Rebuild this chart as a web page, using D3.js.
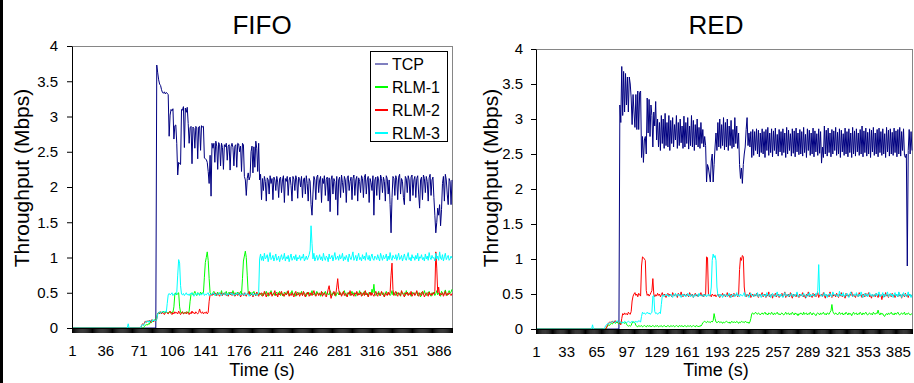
<!DOCTYPE html>
<html>
<head>
<meta charset="utf-8">
<script src="https://cdn.jsdelivr.net/npm/d3@7"></script>
<style>
  body { margin: 0; background: #fff; }
  svg { display: block; }
</style>
</head>
<body>
<svg width="914" height="383"></svg>
<script>
// throughput in Mbps, one value per second (1..400)

// ---- FIFO ----
const fifoTcp = [
  0,0,0,0,0,0,0,0,0,0,0,0,0,0,0,0,0,0,0,0,
  0,0,0,0,0,0,0,0,0,0,0,0,0,0,0,0,0,0,0,0,
  0,0,0,0,0,0,0,0,0,0,0,0,0,0,0,0,0,0,0,0,
  0,0,0,0,0,0,0,0,0,0,0,0,0,0,0,0,0,0,0,0,
  0,0,0,0,0,0,0,0,0,3.73,3.62,3.52,3.46,3.44,3.38,3.34,3.33,3.35,3.32,3.34,
  3.33,3.31,2.72,3.02,3.1,3.08,3.11,2.68,2.87,2.88,2.62,2.17,2.35,2.33,2.32,3.1,3.09,3.14,2.56,3.12,
  3.06,3.13,2.9,2.62,2.84,2.86,2.33,2.85,2.83,2.55,2.86,2.84,2.4,2.85,2.86,2.52,2.87,2.85,2.86,2.41,
  2.4,2.39,2.35,2.22,2.05,2.45,1.87,2.62,2.55,2.62,2.35,2.65,2.58,2.25,2.63,2.6,2.3,2.62,2.56,2.25,
  2.6,2.57,2.62,2.38,2.58,2.6,2.24,2.57,2.62,2.56,2.3,2.58,2.6,2.28,2.62,2.61,2.5,2.58,2.22,2.62,
  2.6,2.15,2.1,1.88,2.12,2.2,2.1,2.15,2.5,2.58,2.2,2.57,2.28,2.65,2.55,2.22,2.62,2.1,2.18,1.82,
  2.12,1.95,2.15,2.08,1.8,2.13,2.1,1.9,2.16,2.05,2.12,1.82,2.14,2.1,1.95,2.15,2.07,1.85,2.12,2.14,
  1.92,2.1,2.16,1.78,2.12,2.08,2.15,1.88,2.1,2.14,2.02,1.8,2.15,2.11,1.95,2.16,2.1,1.84,2.14,2.12,
  2.0,2.15,1.85,2.1,2.13,1.9,2.16,2.05,1.8,2.12,2.08,1.75,1.6,1.9,2.15,2.1,1.82,2.14,2.17,1.92,
  2.1,2.15,1.78,2.12,2.05,2.16,1.88,2.11,2.14,1.8,2.13,1.65,2.1,2.16,1.9,2.12,2.08,1.82,2.15,1.6,
  2.1,2.14,1.85,2.17,2.06,1.92,2.15,2.1,1.78,2.13,2.16,1.95,2.08,2.14,1.82,2.12,2.17,1.88,2.1,2.15,
  1.8,2.13,2.08,1.92,2.16,2.12,1.85,2.14,2.18,1.9,2.1,2.15,1.78,2.12,2.06,1.95,2.16,1.6,2.1,2.14,
  1.88,2.15,2.1,1.82,2.17,2.12,1.92,2.14,2.08,1.8,2.16,2.12,1.9,2.1,1.75,1.35,1.85,2.15,2.12,1.88,
  2.16,2.1,1.82,2.14,2.18,1.9,2.12,2.08,1.85,1.75,2.15,2.12,1.92,2.16,2.1,1.8,2.14,2.17,1.88,2.1,
  2.15,1.85,2.12,2.16,1.9,1.7,2.1,2.14,1.82,2.17,2.12,1.92,2.15,2.08,1.8,2.13,2.18,1.88,2.1,2.14,
  1.85,1.6,1.35,1.5,1.7,1.6,1.75,1.45,1.68,2.05,2.15,1.8,2.18,2.1,1.9,1.75,2.12,2.08,1.75,2.1
];
const fifoRlm1 = [
  0,0,0,0,0,0,0,0,0,0,0,0,0,0,0,0,0,0,0,0,
  0,0,0,0,0,0,0,0,0,0,0,0,0,0,0,0,0,0,0,0,
  0,0,0,0,0,0,0,0,0,0,0,0,0,0,0,0,0,0,0,0,
  0,0,0,0,0,0,0,0,0,0,0,0,0,0,0,0,0.02,0.04,0.05,0.04,
  0.06,0.05,0.08,0.07,0.1,0.09,0.1,0.12,0.1,0.16,0.21,0.22,0.2,0.23,0.21,0.22,0.24,0.22,0.21,0.23,
  0.22,0.21,0.23,0.22,0.21,0.23,0.22,0.3,0.48,0.5,0.47,0.49,0.5,0.3,0.22,0.21,0.23,0.2,0.22,0.21,
  0.23,0.22,0.21,0.24,0.38,0.48,0.5,0.47,0.49,0.52,0.48,0.46,0.5,0.49,0.47,0.51,0.48,0.5,0.5,0.72,
  0.93,1.0,1.08,0.96,0.7,0.5,0.48,0.47,0.5,0.52,0.48,0.46,0.49,0.51,0.47,0.5,0.48,0.53,0.47,0.49,
  0.5,0.48,0.52,0.46,0.49,0.51,0.47,0.5,0.48,0.53,0.49,0.46,0.5,0.48,0.51,0.47,0.49,0.52,0.48,0.7,
  0.95,1.02,1.09,1.0,0.75,0.5,0.48,0.51,0.47,0.5,0.49,0.52,0.48,0.46,0.5,0.49,0.47,0.5,0.48,0.46,
  0.49,0.46,0.5,0.48,0.52,0.47,0.45,0.5,0.49,0.53,0.47,0.48,0.5,0.46,0.49,0.51,0.47,0.48,0.52,0.46,
  0.5,0.48,0.45,0.51,0.49,0.47,0.52,0.48,0.46,0.5,0.49,0.53,0.47,0.48,0.5,0.45,0.49,0.51,0.47,0.5,
  0.48,0.52,0.46,0.49,0.5,0.47,0.45,0.51,0.48,0.5,0.46,0.49,0.53,0.47,0.48,0.5,0.46,0.52,0.49,0.47,
  0.5,0.45,0.48,0.51,0.47,0.49,0.52,0.46,0.5,0.48,0.47,0.53,0.49,0.46,0.5,0.48,0.51,0.45,0.49,0.5,
  0.47,0.52,0.48,0.46,0.5,0.49,0.53,0.47,0.45,0.5,0.48,0.51,0.46,0.49,0.52,0.47,0.5,0.48,0.45,0.51,
  0.49,0.47,0.53,0.48,0.5,0.46,0.49,0.52,0.47,0.5,0.48,0.45,0.51,0.49,0.47,0.55,0.5,0.62,0.48,0.46,
  0.5,0.48,0.52,0.46,0.49,0.51,0.47,0.5,0.44,0.48,0.52,0.47,0.49,0.5,0.46,0.48,0.53,0.47,0.5,0.49,
  0.46,0.51,0.48,0.5,0.47,0.45,0.52,0.49,0.48,0.5,0.46,0.53,0.48,0.47,0.5,0.49,0.45,0.51,0.48,0.5,
  0.47,0.49,0.52,0.46,0.5,0.48,0.44,0.51,0.49,0.47,0.53,0.48,0.46,0.5,0.49,0.52,0.47,0.45,0.5,0.48,
  0.51,0.46,0.49,0.53,0.47,0.5,0.48,0.45,0.52,0.49,0.47,0.5,0.54,0.48,0.46,0.5,0.53,0.49,0.51,0.55
];
const fifoRlm2 = [
  0,0,0,0,0,0,0,0,0,0,0,0,0,0,0,0,0,0,0,0,
  0,0,0,0,0,0,0,0,0,0,0,0,0,0,0,0,0,0,0,0,
  0,0,0,0,0,0,0,0,0,0,0,0,0,0,0,0,0,0,0,0,
  0,0,0,0,0,0,0,0,0,0,0,0,0,0.03,0.06,0.05,0.07,0.1,0.08,0.1,
  0.09,0.11,0.1,0.08,0.12,0.1,0.09,0.11,0.1,0.13,0.2,0.22,0.21,0.23,0.2,0.22,0.21,0.19,0.22,0.23,
  0.21,0.2,0.22,0.24,0.21,0.19,0.22,0.2,0.23,0.21,0.22,0.2,0.24,0.21,0.19,0.22,0.23,0.2,0.21,0.22,
  0.2,0.23,0.21,0.19,0.22,0.2,0.24,0.21,0.22,0.2,0.23,0.21,0.2,0.22,0.27,0.22,0.21,0.23,0.2,0.22,
  0.21,0.23,0.2,0.22,0.38,0.47,0.48,0.46,0.49,0.47,0.5,0.48,0.46,0.49,0.47,0.45,0.48,0.5,0.46,0.49,
  0.47,0.5,0.46,0.48,0.45,0.49,0.47,0.51,0.46,0.48,0.5,0.45,0.47,0.49,0.46,0.5,0.48,0.44,0.47,0.49,
  0.46,0.5,0.47,0.45,0.49,0.48,0.52,0.46,0.47,0.5,0.44,0.48,0.49,0.46,0.51,0.47,0.45,0.49,0.48,0.5,
  0.45,0.47,0.52,0.48,0.44,0.49,0.5,0.46,0.48,0.51,0.45,0.47,0.49,0.53,0.46,0.48,0.44,0.5,0.47,0.49,
  0.52,0.46,0.48,0.45,0.5,0.47,0.49,0.53,0.45,0.48,0.46,0.5,0.47,0.44,0.49,0.52,0.46,0.48,0.5,0.45,
  0.48,0.5,0.46,0.52,0.47,0.44,0.49,0.48,0.51,0.45,0.47,0.5,0.46,0.49,0.53,0.47,0.45,0.48,0.5,0.46,
  0.49,0.47,0.52,0.45,0.48,0.5,0.46,0.44,0.49,0.55,0.6,0.5,0.42,0.47,0.49,0.52,0.46,0.48,0.58,0.7,
  0.55,0.47,0.5,0.45,0.48,0.52,0.46,0.49,0.47,0.44,0.5,0.48,0.53,0.46,0.49,0.47,0.45,0.5,0.48,0.52,
  0.46,0.49,0.47,0.51,0.45,0.48,0.5,0.46,0.53,0.47,0.49,0.44,0.48,0.51,0.46,0.5,0.47,0.45,0.49,0.52,
  0.47,0.45,0.5,0.48,0.46,0.52,0.49,0.47,0.44,0.5,0.48,0.46,0.51,0.47,0.5,0.75,0.92,0.55,0.46,0.49,
  0.52,0.47,0.45,0.5,0.48,0.46,0.53,0.49,0.47,0.44,0.5,0.48,0.51,0.46,0.49,0.47,0.52,0.45,0.48,0.5,
  0.46,0.49,0.53,0.47,0.45,0.5,0.48,0.46,0.52,0.49,0.44,0.47,0.5,0.48,0.45,0.51,0.47,0.49,0.46,0.5,
  0.48,0.52,1.08,0.85,0.5,0.58,0.46,0.49,0.47,0.5,0.45,0.48,0.52,0.46,0.49,0.47,0.5,0.48,0.46,0.49
];
const fifoRlm3 = [
  0,0,0,0,0,0,0,0,0,0,0,0,0,0,0,0,0,0,0,0,
  0,0,0,0,0,0,0,0,0,0,0,0,0,0,0,0,0,0,0,0,
  0,0,0,0,0,0,0,0,0,0,0,0,0,0,0,0,0,0,0,0.06,
  0,0,0,0,0,0,0,0,0,0,0,0,0,0.04,0.05,0.03,0.06,0.08,0.1,0.09,
  0.1,0.08,0.11,0.1,0.09,0.12,0.1,0.11,0.1,0.12,0.2,0.22,0.23,0.21,0.22,0.24,0.22,0.23,0.24,0.22,
  0.35,0.47,0.49,0.47,0.48,0.5,0.46,0.48,0.49,0.47,0.5,0.75,0.97,0.92,0.6,0.48,0.47,0.49,0.46,0.48,
  0.5,0.47,0.48,0.46,0.49,0.48,0.5,0.47,0.45,0.48,0.49,0.47,0.5,0.48,0.46,0.49,0.47,0.48,0.5,0.46,
  0.48,0.47,0.49,0.5,0.46,0.48,0.47,0.49,0.48,0.5,0.46,0.48,0.49,0.47,0.48,0.5,0.47,0.46,0.49,0.48,
  0.47,0.5,0.48,0.46,0.49,0.47,0.48,0.5,0.47,0.49,0.46,0.48,0.47,0.5,0.48,0.49,0.46,0.48,0.47,0.49,
  0.48,0.46,0.5,0.47,0.48,0.49,0.45,0.47,0.48,0.5,0.46,0.48,0.47,0.49,0.46,0.48,0.5,0.98,1.05,0.96,
  1.02,0.95,1.06,0.98,1.0,1.04,0.94,1.01,1.07,0.97,0.99,1.03,0.95,1.0,1.05,0.96,0.98,1.02,0.94,1.0,
  1.04,0.97,0.99,1.06,0.95,1.01,0.98,1.03,0.94,1.0,1.05,0.96,0.99,1.02,0.97,1.04,0.95,1.0,0.98,1.03,
  0.96,1.01,0.99,1.05,0.95,0.98,1.02,0.97,1.0,1.04,1.1,1.45,1.2,0.98,1.06,0.95,1.0,1.03,0.96,0.99,
  1.04,0.97,1.01,0.95,1.06,0.99,0.96,1.02,1.0,0.94,1.05,0.98,1.0,1.03,0.95,1.01,1.07,0.97,0.99,1.02,
  0.96,1.04,0.98,1.0,1.06,0.95,1.01,0.97,1.03,0.99,0.94,1.05,1.0,0.97,1.02,1.08,0.96,0.99,1.03,0.95,
  1.01,1.06,0.97,1.0,0.95,1.04,0.98,1.02,0.96,1.07,1.0,0.97,1.03,0.95,1.01,1.05,0.98,0.96,1.02,1.0,
  0.97,1.04,0.99,0.95,1.06,1.01,0.96,1.03,0.98,1.0,1.05,0.95,1.02,0.97,1.07,0.99,0.96,1.03,1.0,0.98,
  1.04,0.96,1.01,1.06,0.97,0.99,1.03,0.95,1.0,1.05,0.98,0.96,1.02,1.07,0.97,1.0,0.95,1.04,0.99,1.01,
  0.96,1.03,0.98,1.06,0.95,1.01,0.99,1.04,0.97,1.0,0.95,1.05,0.98,1.02,0.96,1.07,1.0,0.97,1.03,0.99,
  1.0,0.95,1.06,0.98,1.02,0.96,1.08,0.99,0.97,1.04,0.95,1.01,1.06,0.97,1.0,1.03,0.96,0.98,1.02,0.99
];

// ---- RED ----
const redTcp = [
  0,0,0,0,0,0,0,0,0,0,0,0,0,0,0,0,0,0,0,0,
  0,0,0,0,0,0,0,0,0,0,0,0,0,0,0,0,0,0,0,0,
  0,0,0,0,0,0,0,0,0,0,0,0,0,0,0,0,0,0,0,0,
  0,0,0,0,0,0,0,0,0,0,0,0,0,0,0,0,0,0,0,0,
  0,0,0,0,0,0,0,0,0,3.2,2.95,3.75,3.05,3.68,3.1,3.65,3.2,3.6,3.1,3.6,
  3.5,3.3,2.92,3.35,3.1,2.88,3.35,2.85,3.4,2.85,3.38,3.4,2.45,2.75,2.38,2.7,2.75,2.5,3.3,2.8,
  3.28,2.75,3.2,3.05,2.6,3.1,2.9,3.25,2.7,3.0,2.6,2.95,2.55,3.05,2.65,3.0,2.58,3.08,2.62,2.95,
  2.6,3.05,2.55,2.98,2.65,3.02,2.6,2.92,2.7,3.05,2.58,2.95,2.62,3.0,2.66,2.9,2.58,3.04,2.6,2.95,
  2.65,3.02,2.57,2.9,2.62,3.05,2.6,2.98,2.55,2.92,2.63,3.0,2.6,2.88,2.58,2.95,2.65,2.85,2.6,2.75,
  2.62,2.1,2.35,2.3,2.2,2.1,2.4,2.5,2.1,2.35,2.6,2.8,2.55,2.95,2.6,3.0,2.58,2.92,2.62,3.02,
  2.56,2.95,2.6,3.0,2.55,2.9,2.62,2.98,2.58,2.85,2.6,3.02,2.65,2.9,2.58,2.8,2.35,2.15,2.3,2.08,
  2.35,2.5,2.6,2.85,3.02,2.62,2.8,2.6,2.82,2.45,2.85,2.48,2.82,2.55,2.86,2.5,2.84,2.46,2.8,2.52,
  2.86,2.5,2.82,2.45,2.85,2.55,2.88,2.48,2.8,2.52,2.86,2.46,2.83,2.55,2.87,2.5,2.78,2.47,2.85,2.53,
  2.82,2.48,2.86,2.52,2.8,2.45,2.88,2.5,2.84,2.55,2.79,2.47,2.86,2.51,2.83,2.46,2.87,2.53,2.8,2.49,
  2.85,2.5,2.82,2.47,2.88,2.52,2.78,2.45,2.86,2.55,2.84,2.48,2.8,2.5,2.87,2.46,2.83,2.53,2.79,2.48,
  2.86,2.51,2.82,2.37,2.6,2.45,2.9,2.5,2.84,2.47,2.87,2.52,2.8,2.46,2.85,2.5,2.83,2.55,2.88,2.48,
  2.81,2.5,2.86,2.45,2.84,2.53,2.79,2.48,2.87,2.5,2.82,2.46,2.86,2.52,2.8,2.45,2.88,2.5,2.83,2.47,
  2.86,2.53,2.8,2.48,2.85,2.5,2.9,2.46,2.83,2.52,2.87,2.47,2.81,2.5,2.86,2.45,2.84,2.53,2.88,2.48,
  2.8,2.5,2.85,2.46,2.87,2.52,2.82,2.48,2.86,2.5,2.79,2.45,2.88,2.53,2.84,2.47,2.86,2.5,2.81,2.48,
  2.87,2.52,2.83,2.46,2.85,2.5,2.88,2.47,2.82,2.55,2.86,2.48,2.45,2.5,0.9,2.55,2.85,2.5,2.82,2.55
];
const redRlm1 = [
  0,0,0,0,0,0,0,0,0,0,0,0,0,0,0,0,0,0,0,0,
  0,0,0,0,0,0,0,0,0,0,0,0,0,0,0,0,0,0,0,0,
  0,0,0,0,0,0,0,0,0,0,0,0,0,0,0,0,0,0,0,0,
  0,0,0,0,0,0,0,0,0,0,0,0,0,0,0,0.02,0.04,0.06,0.05,0.07,
  0.08,0.07,0.09,0.1,0.08,0.09,0.1,0.08,0.09,0.07,0.09,0.08,0.1,0.09,0.08,0.1,0.07,0.05,0.04,0.05,
  0.04,0.05,0.09,0.1,0.1,0.09,0.05,0.04,0.03,0.05,0.04,0.04,0.05,0.03,0.04,0.05,0.04,0.03,0.05,0.04,
  0.04,0.05,0.03,0.04,0.05,0.04,0.03,0.05,0.04,0.05,0.03,0.04,0.04,0.05,0.03,0.04,0.05,0.04,0.03,0.04,
  0.05,0.04,0.03,0.05,0.04,0.04,0.05,0.03,0.04,0.05,0.04,0.03,0.05,0.04,0.04,0.05,0.03,0.04,0.05,0.04,
  0.03,0.05,0.04,0.04,0.05,0.03,0.04,0.05,0.04,0.03,0.05,0.04,0.04,0.03,0.05,0.04,0.06,0.09,0.1,0.11,
  0.1,0.09,0.11,0.1,0.1,0.09,0.11,0.1,0.12,0.22,0.15,0.1,0.09,0.1,0.11,0.09,0.1,0.1,0.08,0.1,
  0.09,0.1,0.11,0.1,0.09,0.1,0.08,0.1,0.11,0.09,0.1,0.1,0.09,0.11,0.1,0.08,0.1,0.09,0.11,0.1,
  0.1,0.09,0.11,0.1,0.09,0.1,0.08,0.1,0.15,0.22,0.23,0.21,0.22,0.24,0.22,0.21,0.23,0.22,0.2,0.22,
  0.23,0.21,0.22,0.24,0.21,0.22,0.2,0.23,0.22,0.21,0.24,0.22,0.2,0.23,0.21,0.22,0.24,0.21,0.22,0.2,
  0.22,0.23,0.21,0.2,0.22,0.24,0.21,0.22,0.23,0.2,0.22,0.21,0.24,0.22,0.2,0.23,0.21,0.22,0.19,0.22,
  0.21,0.23,0.22,0.2,0.24,0.21,0.22,0.23,0.2,0.22,0.21,0.24,0.22,0.2,0.23,0.22,0.21,0.19,0.22,0.23,
  0.22,0.2,0.23,0.21,0.22,0.24,0.21,0.22,0.2,0.23,0.22,0.21,0.24,0.26,0.35,0.25,0.22,0.21,0.23,0.22,
  0.2,0.22,0.24,0.21,0.22,0.23,0.2,0.22,0.21,0.24,0.22,0.2,0.23,0.21,0.22,0.19,0.22,0.24,0.21,0.22,
  0.23,0.2,0.22,0.21,0.24,0.22,0.2,0.23,0.21,0.22,0.24,0.21,0.2,0.22,0.23,0.21,0.22,0.2,0.24,0.22,
  0.21,0.23,0.22,0.27,0.22,0.2,0.23,0.21,0.22,0.19,0.18,0.21,0.22,0.2,0.23,0.21,0.22,0.24,0.21,0.22,
  0.2,0.23,0.21,0.22,0.24,0.21,0.2,0.22,0.23,0.21,0.22,0.24,0.2,0.22,0.21,0.23,0.22,0.2,0.21,0.22
];
const redRlm2 = [
  0,0,0,0,0,0,0,0,0,0,0,0,0,0,0,0,0,0,0,0,
  0,0,0,0,0,0,0,0,0,0,0,0,0,0,0,0,0,0,0,0,
  0,0,0,0,0,0,0,0,0,0,0,0,0,0,0,0,0,0,0,0,
  0,0,0,0,0,0,0,0,0,0,0,0,0,0,0,0.03,0.06,0.08,0.1,0.09,
  0.1,0.11,0.09,0.1,0.12,0.1,0.11,0.09,0.1,0.08,0.06,0.15,0.22,0.2,0.23,0.21,0.22,0.2,0.24,0.22,
  0.21,0.25,0.4,0.47,0.5,0.52,0.48,0.5,0.46,0.51,0.49,0.47,0.9,1.03,1.02,1.0,0.98,0.55,0.48,0.5,
  0.47,0.49,0.52,0.55,0.72,0.5,0.46,0.49,0.47,0.51,0.48,0.5,0.46,0.49,0.52,0.47,0.5,0.48,0.45,0.49,
  0.51,0.47,0.5,0.48,0.46,0.52,0.49,0.47,0.5,0.48,0.45,0.51,0.49,0.47,0.53,0.48,0.46,0.5,0.49,0.47,
  0.5,0.48,0.46,0.52,0.49,0.47,0.5,0.45,0.48,0.51,0.47,0.49,0.46,0.5,0.48,0.52,0.47,0.49,0.46,0.5,
  0.48,1.03,1.02,0.5,0.47,0.49,0.46,0.5,0.48,0.47,0.49,0.46,0.48,0.5,0.47,0.45,0.49,0.48,0.51,0.47,
  0.5,0.46,0.48,0.52,0.47,0.49,0.45,0.5,0.48,0.46,0.51,0.47,0.49,0.5,0.46,0.48,0.85,1.02,0.98,1.05,
  1.03,0.6,0.48,0.46,0.5,0.47,0.49,0.52,0.45,0.48,0.5,0.46,0.49,0.47,0.51,0.48,0.45,0.5,0.47,0.49,
  0.52,0.46,0.48,0.5,0.45,0.49,0.47,0.53,0.46,0.48,0.5,0.44,0.49,0.47,0.51,0.46,0.48,0.5,0.45,0.49,
  0.47,0.51,0.46,0.48,0.53,0.45,0.49,0.47,0.5,0.46,0.52,0.48,0.44,0.5,0.47,0.49,0.46,0.51,0.48,0.45,
  0.5,0.47,0.49,0.52,0.46,0.48,0.44,0.5,0.47,0.53,0.46,0.49,0.48,0.45,0.51,0.47,0.5,0.46,0.48,0.52,
  0.45,0.49,0.47,0.5,0.46,0.52,0.48,0.44,0.5,0.47,0.49,0.46,0.53,0.48,0.45,0.5,0.47,0.49,0.46,0.51,
  0.48,0.45,0.5,0.47,0.52,0.46,0.49,0.48,0.44,0.51,0.47,0.49,0.46,0.5,0.48,0.53,0.46,0.49,0.47,0.45,
  0.5,0.48,0.46,0.52,0.47,0.49,0.45,0.5,0.48,0.46,0.51,0.47,0.49,0.52,0.46,0.48,0.44,0.5,0.47,0.49,
  0.46,0.51,0.48,0.45,0.5,0.47,0.49,0.42,0.48,0.5,0.46,0.52,0.47,0.49,0.45,0.5,0.48,0.46,0.51,0.47,
  0.49,0.45,0.5,0.48,0.46,0.52,0.47,0.49,0.44,0.5,0.48,0.46,0.51,0.47,0.49,0.45,0.5,0.48,0.47,0.49
];
const redRlm3 = [
  0,0,0,0,0,0,0,0,0,0,0,0,0,0,0,0,0,0,0,0,
  0,0,0,0,0,0,0,0,0,0,0,0,0,0,0,0,0,0,0,0,
  0,0,0,0,0,0,0,0,0,0,0,0,0,0,0,0,0,0,0,0,
  0.06,0,0,0,0,0,0,0,0,0,0,0,0,0.02,0.05,0.06,0.08,0.07,0.09,0.1,
  0.09,0.1,0.11,0.1,0.09,0.1,0.12,0.1,0.09,0.11,0.1,0.08,0.1,0.09,0.11,0.1,0.09,0.1,0.11,0.1,
  0.09,0.1,0.11,0.1,0.09,0.1,0.11,0.1,0.1,0.12,0.11,0.1,0.18,0.24,0.22,0.23,0.21,0.22,0.24,0.22,
  0.23,0.21,0.22,0.24,0.47,0.48,0.25,0.22,0.23,0.21,0.22,0.24,0.22,0.35,0.47,0.49,0.46,0.48,0.5,0.47,
  0.49,0.46,0.48,0.5,0.47,0.45,0.49,0.48,0.51,0.46,0.48,0.5,0.47,0.49,0.45,0.48,0.5,0.47,0.49,0.46,
  0.48,0.51,0.47,0.49,0.46,0.5,0.48,0.45,0.49,0.47,0.5,0.48,0.46,0.51,0.47,0.49,0.48,0.46,0.5,0.47,
  0.49,0.46,0.48,0.5,0.47,0.49,0.6,0.98,1.07,1.02,1.05,0.98,0.6,0.48,0.46,0.5,0.47,0.49,0.45,0.48,
  0.5,0.47,0.49,0.46,0.48,0.51,0.47,0.45,0.49,0.48,0.5,0.46,0.48,0.52,0.47,0.49,0.46,0.5,0.48,0.47,
  0.49,0.52,0.46,0.48,0.5,0.47,0.45,0.49,0.51,0.47,0.48,0.46,0.5,0.49,0.47,0.52,0.46,0.48,0.5,0.45,
  0.48,0.5,0.47,0.49,0.46,0.52,0.48,0.47,0.5,0.45,0.49,0.51,0.47,0.48,0.46,0.5,0.53,0.47,0.49,0.46,
  0.5,0.48,0.45,0.49,0.52,0.47,0.48,0.5,0.46,0.49,0.47,0.51,0.48,0.46,0.5,0.47,0.49,0.53,0.46,0.48,
  0.47,0.5,0.48,0.46,0.51,0.49,0.47,0.45,0.5,0.48,0.52,0.46,0.49,0.47,0.5,0.48,0.46,0.51,0.49,0.55,
  0.92,0.5,0.47,0.49,0.46,0.48,0.52,0.47,0.5,0.45,0.49,0.48,0.51,0.47,0.46,0.53,0.49,0.48,0.5,0.47,
  0.49,0.46,0.54,0.48,0.5,0.47,0.52,0.46,0.49,0.48,0.51,0.47,0.45,0.5,0.53,0.48,0.46,0.49,0.5,0.47,
  0.52,0.48,0.46,0.5,0.47,0.53,0.49,0.45,0.48,0.51,0.47,0.5,0.46,0.49,0.52,0.48,0.47,0.5,0.46,0.49,
  0.48,0.51,0.47,0.5,0.53,0.46,0.49,0.48,0.52,0.45,0.5,0.47,0.49,0.53,0.46,0.48,0.51,0.47,0.5,0.45,
  0.49,0.52,0.47,0.5,0.46,0.53,0.48,0.5,0.45,0.49,0.52,0.47,0.5,0.46,0.48,0.53,0.47,0.5,0.45,0.49
];

const seriesNames = ["TCP", "RLM-1", "RLM-2", "RLM-3"];
const seriesColors = ["#000080", "#00ff00", "#ff0000", "#00ffff"];
const yTicks = [0, 0.5, 1, 1.5, 2, 2.5, 3, 3.5, 4];

const font = "'Liberation Sans', Arial, sans-serif";

const panels = [
  { title: "FIFO", series: [fifoTcp, fifoRlm1, fifoRlm2, fifoRlm3], labelStep: 35,
    left: 72, right: 452, top: 46, bottom: 328, yPad: 9, yTitleX: 29, legend: true },
  { title: "RED", series: [redTcp, redRlm1, redRlm2, redRlm3], labelStep: 32,
    left: 536, right: 912, top: 49, bottom: 329, yPad: 8, yTitleX: 498, legend: false }
];

const svg = d3.select("svg");
svg.append("rect").attr("width", 914).attr("height", 383).attr("fill", "#fff");
// black strip on the left edge
svg.append("rect").attr("x", 0).attr("y", 0).attr("width", 3).attr("height", 383).attr("fill", "#000");

function drawPanel(p) {
  const n = p.series[0].length;
  const times = d3.range(1, n + 1);

  const x = d3.scalePoint().domain(times).range([p.left, p.right]);
  const y = d3.scaleLinear().domain([0, 4]).range([p.bottom, p.top]);

  const g = svg.append("g");

  // plot area frame
  g.append("rect")
    .attr("x", p.left + 0.5)
    .attr("y", p.top + 0.5)
    .attr("width", p.right - p.left)
    .attr("height", p.bottom - p.top)
    .attr("fill", "none")
    .attr("stroke", "#868686");

  // series, TCP first so the RLM lines sit on top
  const line = d3.line()
    .x((d, i) => x(times[i]))
    .y(d => y(d));

  p.series.forEach((s, k) => {
    g.append("path")
      .datum(s)
      .attr("d", line)
      .attr("fill", "none")
      .attr("stroke", seriesColors[k])
      .attr("stroke-width", 1)
      .attr("stroke-linejoin", "round");
  });

  // y axis
  const yAxis = g.append("g")
    .attr("transform", `translate(${p.left},0)`)
    .call(d3.axisLeft(y).tickValues(yTicks).tickSize(5).tickSizeOuter(0)
      .tickPadding(p.yPad).tickFormat(d3.format("")));
  yAxis.attr("font-family", font).attr("font-size", 15);
  yAxis.selectAll("text").attr("fill", "#000");

  // x axis: a tick for every second, a label every labelStep
  const xAxis = g.append("g")
    .attr("transform", `translate(0,${p.bottom})`)
    .call(d3.axisBottom(x).tickValues(times).tickSize(5).tickSizeOuter(0).tickPadding(12)
      .tickFormat(t => (t - 1) % p.labelStep === 0 ? t : ""));
  xAxis.attr("font-family", font).attr("font-size", 15);
  xAxis.selectAll(".tick line").attr("stroke", "#000").attr("stroke-width", 1);
  xAxis.selectAll("text").attr("fill", "#000");

  // titles
  const cx = (p.left + p.right) / 2 + (p.legend ? 0 : -8);
  g.append("text")
    .attr("x", cx)
    .attr("y", 34)
    .attr("text-anchor", "middle")
    .attr("font-family", font)
    .attr("font-size", 26)
    .text(p.title);

  g.append("text")
    .attr("x", cx)
    .attr("y", 376)
    .attr("text-anchor", "middle")
    .attr("font-family", font)
    .attr("font-size", 18)
    .text("Time (s)");

  g.append("text")
    .attr("transform", `translate(${p.yTitleX},178) rotate(-90)`)
    .attr("text-anchor", "middle")
    .attr("font-family", font)
    .attr("font-size", 21)
    .text("Throughput (Mbps)");

  if (p.legend) {
    const lg = g.append("g").attr("transform", "translate(370,51)");
    lg.append("rect")
      .attr("x", 0.5).attr("y", 0.5)
      .attr("width", 77).attr("height", 90)
      .attr("fill", "#fff")
      .attr("stroke", "#000");
    seriesNames.forEach((name, k) => {
      const yy = 13 + k * 23;
      lg.append("line")
        .attr("x1", 5).attr("x2", 18)
        .attr("y1", yy).attr("y2", yy)
        .attr("stroke", seriesColors[k])
        .attr("stroke-width", k === 0 ? 1 : 2);
      lg.append("text")
        .attr("x", 22).attr("y", yy)
        .attr("dy", "0.35em")
        .attr("font-family", font)
        .attr("font-size", 16)
        .text(name);
    });
  }
}

panels.forEach(drawPanel);
</script>
</body>
</html>
